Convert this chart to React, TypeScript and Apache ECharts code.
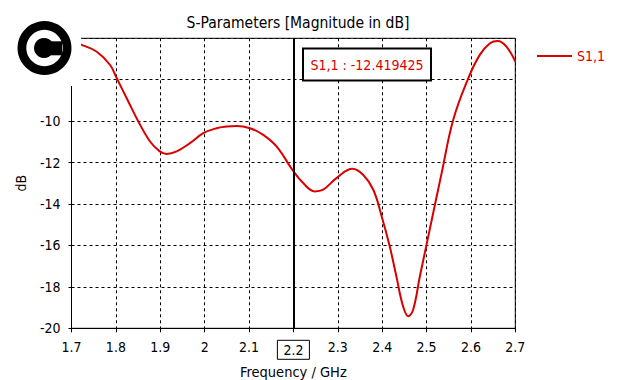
import React, { useEffect, useRef } from "react";
import * as echarts from "echarts";

const freqGHz = [
  1.7, 1.723, 1.757, 1.787, 1.802, 1.828, 1.85, 1.877, 1.899, 1.914, 1.937, 1.967, 1.997,
  2.027, 2.05, 2.072, 2.102, 2.132, 2.162, 2.2, 2.222, 2.248, 2.267, 2.297, 2.333, 2.357,
  2.38, 2.399, 2.417, 2.432, 2.447, 2.459, 2.47, 2.485, 2.5, 2.515, 2.534, 2.56, 2.594,
  2.62, 2.643, 2.66, 2.68, 2.7,
];
const s11dB = [
  -6.18, -6.32, -6.65, -7.29, -7.93, -9.05, -9.99, -10.98, -11.46, -11.58, -11.46, -11.06,
  -10.58, -10.34, -10.26, -10.23, -10.34, -10.66, -11.22, -12.42, -12.99, -13.39, -13.31,
  -12.75, -12.3, -12.59, -13.31, -14.6, -16.04, -17.49, -18.93, -19.42, -19.09, -17.49,
  -15.96, -14.43, -12.51, -9.94, -7.93, -6.8, -6.24, -6.13, -6.4, -7.13,
];
const markerFreq = 2.2;
const markerValue = "-12.419425";
const seriesName = "S1,1";
const titleText = "S-Parameters [Magnitude in dB]";
const xTitle = "Frequency / GHz";
const yTitle = "dB";

const FONT = "'DejaVu Sans Condensed', 'DejaVu Sans', sans-serif";
const RED = "#d80000";

export default function App() {
  const ref = useRef<HTMLDivElement>(null);
  useEffect(() => {
    document.body.style.margin = "0";
    const chart = echarts.init(ref.current!, null, { renderer: "svg" });
    const data = freqGHz.map((f, i) => [f, s11dB[i]]);
    chart.setOption({
      animation: false,
      backgroundColor: "#fff",
      textStyle: { fontFamily: FONT },
      title: {
        text: titleText,
        left: 293,
        textAlign: "center",
        top: 10,
        textStyle: { fontFamily: FONT, fontSize: 15.5, fontWeight: "normal", color: "#000" },
      },
      legend: {
        left: 532,
        top: 44,
        itemWidth: 35,
        itemHeight: 14,
        itemGap: 4,
        textStyle: { fontFamily: FONT, fontSize: 14, color: RED },
        data: [{ name: seriesName, icon: "path://M0,6 L35,6 L35,8 L0,8 Z" }],
      },
      grid: {
        left: 71.5,
        right: 119.7,
        top: 38.3,
        bottom: 51.7,
        outerBoundsMode: "none",
        containLabel: false,
        show: true,
        borderColor: "#000",
        borderWidth: 1,
        backgroundColor: "transparent",
      },
      xAxis: {
        type: "value",
        min: 1.7,
        max: 2.7,
        interval: 0.1,
        name: xTitle,
        nameLocation: "middle",
        nameGap: 30,
        nameTextStyle: { fontFamily: FONT, fontSize: 14.5, color: "#000" },
        axisLine: { show: true, lineStyle: { color: "#000", width: 1 } },
        axisTick: { show: true, length: 4, lineStyle: { color: "#000" } },
        axisLabel: {
          margin: 12,
          fontFamily: FONT,
          fontSize: 14,
          color: "#000",
          formatter: (v: number) => {
            const s = String(Math.round(v * 10) / 10);
            return Math.abs(v - markerFreq) < 1e-6 ? `{box|${s}}` : s;
          },
          rich: {
            box: {
              fontFamily: FONT,
              fontSize: 14,
              color: "#000",
              borderColor: "#000",
              borderWidth: 1,
              padding: [3, 6, 2, 6],
            },
          },
        },
        splitLine: { show: true, lineStyle: { color: "#000", type: [3, 3], width: 1 } },
      },
      yAxis: {
        type: "value",
        min: -20,
        max: -6,
        interval: 2,
        name: yTitle,
        nameLocation: "middle",
        nameGap: 44,
        nameTextStyle: { fontFamily: FONT, fontSize: 14, color: "#000" },
        axisLine: { show: true, lineStyle: { color: "#000", width: 1 } },
        axisTick: { show: true, length: 3, lineStyle: { color: "#000" } },
        axisLabel: { margin: 11, fontFamily: FONT, fontSize: 14, color: "#000" },
        splitLine: { show: true, lineStyle: { color: "#000", type: [3, 3], width: 1 } },
      },
      series: [
        {
          name: seriesName,
          type: "line",
          data,
          smooth: 0.4,
          symbol: "none",
          clip: true,
          lineStyle: { color: RED, width: 2 },
          itemStyle: { color: RED },
          markLine: {
            silent: true,
            symbol: "none",
            label: { show: false },
            lineStyle: { color: "#000", width: 2, type: "solid" },
            data: [{ xAxis: markerFreq }],
          },
        },
      ],
      graphic: [
        {
          type: "group",
          z: 100,
          children: [
            { type: "rect", z: 100, shape: { x: 0, y: 0, width: 81, height: 86 }, style: { fill: "#fff" } },
            { type: "ring", z: 101, shape: { cx: 44.5, cy: 48, r: 27, r0: 18.2 }, style: { fill: "#000" } },
            { type: "circle", z: 101, shape: { cx: 44, cy: 48, r: 10 }, style: { fill: "#000" } },
            { type: "rect", z: 101, shape: { x: 44, y: 41.3, width: 18, height: 14 }, style: { fill: "#000" } },
            {
              type: "rect",
              z: 100,
              shape: { x: 303, y: 48.5, width: 128, height: 32 },
              style: { fill: "#fff", stroke: "#000", lineWidth: 2 },
            },
            {
              type: "text",
              z: 101,
              x: 367,
              y: 64.5,
              style: {
                text: `${seriesName} : ${markerValue}`,
                fill: RED,
                font: `14px ${FONT}`,
                align: "center",
                verticalAlign: "middle",
              },
            },
          ],
        },
      ],
    });
    return () => chart.dispose();
  }, []);
  return <div ref={ref} style={{ width: 635, height: 380 }} />;
}
